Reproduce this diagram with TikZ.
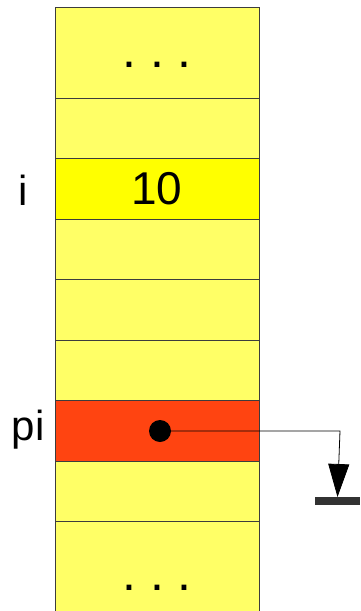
\documentclass[tikz,border=0pt]{standalone}
\usepackage{fontspec}
\setmainfont{Liberation Sans}
\usetikzlibrary{arrows.meta, positioning}
\definecolor{cellyellow}{RGB}{255,255,102}
\definecolor{hotyellow}{RGB}{255,255,0}
\definecolor{ptrred}{RGB}{255,68,17}
\definecolor{edgegray}{RGB}{60,60,60}
\definecolor{groundgray}{RGB}{50,50,50}
\tikzset{
  cell/.style={rectangle, draw=edgegray, fill=cellyellow,
    minimum width=204pt, minimum height=60.5pt, inner sep=0pt,
    outer sep=0pt, line width=0.8pt},
  hotcell/.style={cell, fill=hotyellow},
  ptrcell/.style={cell, fill=ptrred},
  varname/.style={anchor=base, font=\fontsize{42}{48}\selectfont},
  value/.style={font=\fontsize{46}{52}\selectfont},
  ellip/.style={anchor=base, font=\fontsize{50}{56}\selectfont},
  ptrdot/.style={circle, fill=black, minimum size=22pt, inner sep=0pt},
  ground/.style={rectangle, fill=groundgray, minimum width=45pt,
    minimum height=8pt, inner sep=0pt, outer sep=0pt},
  ptr/.style={-{Triangle[width=21pt,length=33pt]}, line width=0.8pt, color=black}
}

\begin{document}
\begin{tikzpicture}[x=1pt, y=-1pt]
  \useasboundingbox (0,0) rectangle (360,611);

  % Memory column
  \node[cell, minimum height=91pt] (r0) at (157,52.5) {};
  \node[cell, below=0pt of r0] (r1) {};
  \node[hotcell, below=0pt of r1] (r2) {};
  \node[cell, below=0pt of r2] (r3) {};
  \node[cell, below=0pt of r3] (r4) {};
  \node[cell, below=0pt of r4] (r5) {};
  \node[ptrcell, below=0pt of r5] (r6) {};
  \node[cell, below=0pt of r6] (r7) {};
  % open cell at the bottom
  \node[cell, draw=none, minimum height=92pt, below=0pt of r7] (r8) {};
  \draw[edgegray, line width=0.8pt] (r8.north west) -- (r8.south west);
  \draw[edgegray, line width=0.8pt] (r8.north east) -- (r8.south east);
  \draw[edgegray, line width=0.8pt] (r7.south west) -- (r7.south east);

  % Contents
  \node[ellip] (dotstop) at (157,67) {.\ .\ .};
  \node[ellip] (dotsbot) at (157,590) {.\ .\ .};
  \node[value] (ival) at (r2.center) {10};
  \node[varname] (iname) at (23,205) {i};
  \node[varname] (piname) at (28,440) {pi};

  % Pointer to null
  \node[ptrdot] (dot) at (160,431) {};
  \coordinate (bend) at (340,431);
  \node[ground] (gnd) at (337.5,501) {};
  \draw[ptr] (dot.center) -- (bend) -- (gnd.north);
\end{tikzpicture}
\end{document}
